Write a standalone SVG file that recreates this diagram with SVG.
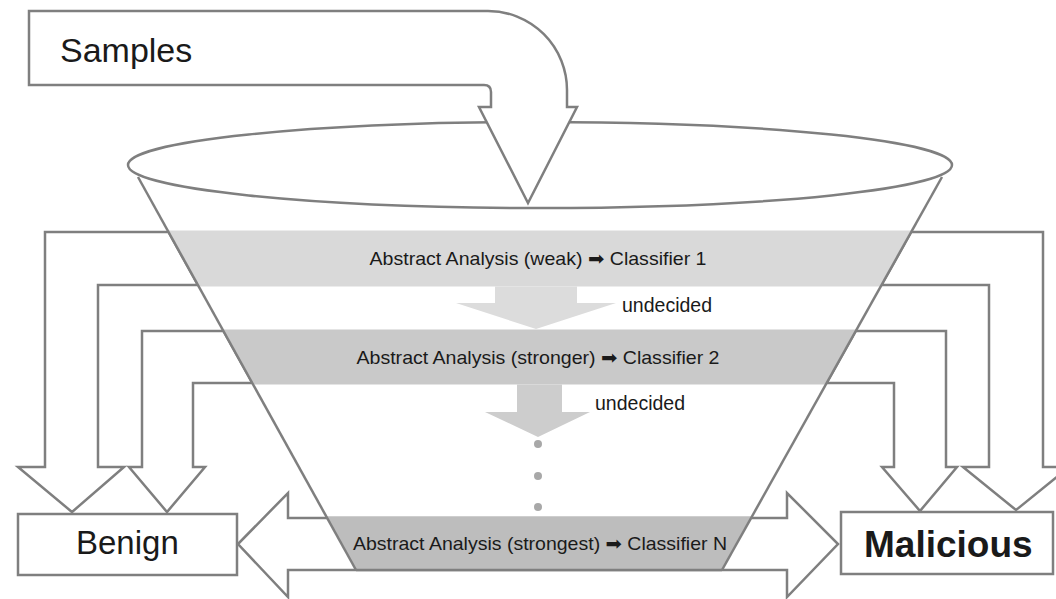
<svg xmlns="http://www.w3.org/2000/svg" width="1056" height="599" viewBox="0 0 1056 599">
  <style>
    .ol { fill: #ffffff; stroke: #7f7f7f; stroke-width: 2.5; stroke-linejoin: miter; }
    .ln { fill: none; stroke: #7f7f7f; stroke-width: 2.5; }
    .t { font-family: "Liberation Sans", "DejaVu Sans", Arial, sans-serif; fill: #1a1a1a; }
    .band { font-size: 18.5px; text-anchor: middle; }
    .und { font-size: 19.5px; }
    .dot { fill: #a8a8a8; }
  </style>
  <defs>
    <clipPath id="funnelClip">
      <polygon points="138,177 942,177 722,570 356,570"/>
    </clipPath>
  </defs>

  <g id="connectors">
    <!-- left arrows to Benign -->
    <path class="ol" d="M168.5,232 H45 V467 H18 L72,512 L124,467 H98 V285 H197.9 Z"/>
    <path class="ol" d="M223.4,331 H142 V467 H129 L167,512 L205,467 H193 V383 H252.3 Z"/>
    <!-- right arrows to Malicious -->
    <path class="ol" d="M911.2,232 H1043 V467 H1069 L1016,510 L963,467 H989 V285 H881.5 Z"/>
    <path class="ol" d="M855.8,331 H946 V467 H957 L920,511 L882,467 H894 V383 H826.7 Z"/>
    <!-- bottom double arrow -->
    <path class="ol" d="M238,544 L288,493 V518 H787 V493 L838,544 L787,597 V570 H288 V597 Z"/>
  </g>

  <g id="funnel">
    <g clip-path="url(#funnelClip)">
      <rect id="band1" x="100" y="230.5" width="900" height="56" fill="#d9d9d9"/>
      <rect id="band2" x="100" y="329.5" width="900" height="55" fill="#c9c9c9"/>
      <rect id="band3" x="100" y="516.5" width="900" height="52.5" fill="#bdbdbd"/>
    </g>
    <polygon id="down1" points="495,286.5 577,286.5 577,303 616,303 536,329 456,303 495,303" fill="#dcdcdc"/>
    <polygon id="down2" points="517,384.5 562,384.5 562,412 590,412 538,437 485,412 517,412" fill="#cdcdcd"/>
    <circle class="dot" cx="538" cy="444" r="4"/>
    <circle class="dot" cx="538" cy="476" r="4"/>
    <circle class="dot" cx="538" cy="507" r="4"/>
    <ellipse class="ln" cx="540" cy="165" rx="412" ry="43"/>
    <line class="ln" x1="138" y1="177" x2="356" y2="570"/>
    <line class="ln" x1="942" y1="177" x2="722" y2="570"/>
    <line class="ln" x1="356" y1="570" x2="722" y2="570"/>
    <text class="t band" x="538" y="265" textLength="337" lengthAdjust="spacingAndGlyphs">Abstract Analysis (weak) ➡ Classifier 1</text>
    <text class="t band" x="538" y="364" textLength="363" lengthAdjust="spacingAndGlyphs">Abstract Analysis (stronger) ➡ Classifier 2</text>
    <text class="t band" x="540" y="550" textLength="374" lengthAdjust="spacingAndGlyphs">Abstract Analysis (strongest) ➡ Classifier N</text>
    <text class="t und" x="622" y="312">undecided</text>
    <text class="t und" x="595" y="410">undecided</text>
  </g>

  <g id="samples">
    <path class="ol" d="M29,11 H488 A79,79 0 0 1 567,90 V107 H577 L528,203 L479,107 H491 V92 Q491,85 484,85 H29 Z"/>
    <text class="t" x="60" y="62" font-size="34">Samples</text>
  </g>

  <g id="benign">
    <rect class="ol" x="18" y="514" width="219" height="61"/>
    <text class="t" x="76" y="554" font-size="33">Benign</text>
  </g>

  <g id="malicious">
    <rect class="ol" x="841" y="512" width="212" height="62"/>
    <text class="t" x="864" y="557" font-size="37" font-weight="bold">Malicious</text>
  </g>
</svg>
